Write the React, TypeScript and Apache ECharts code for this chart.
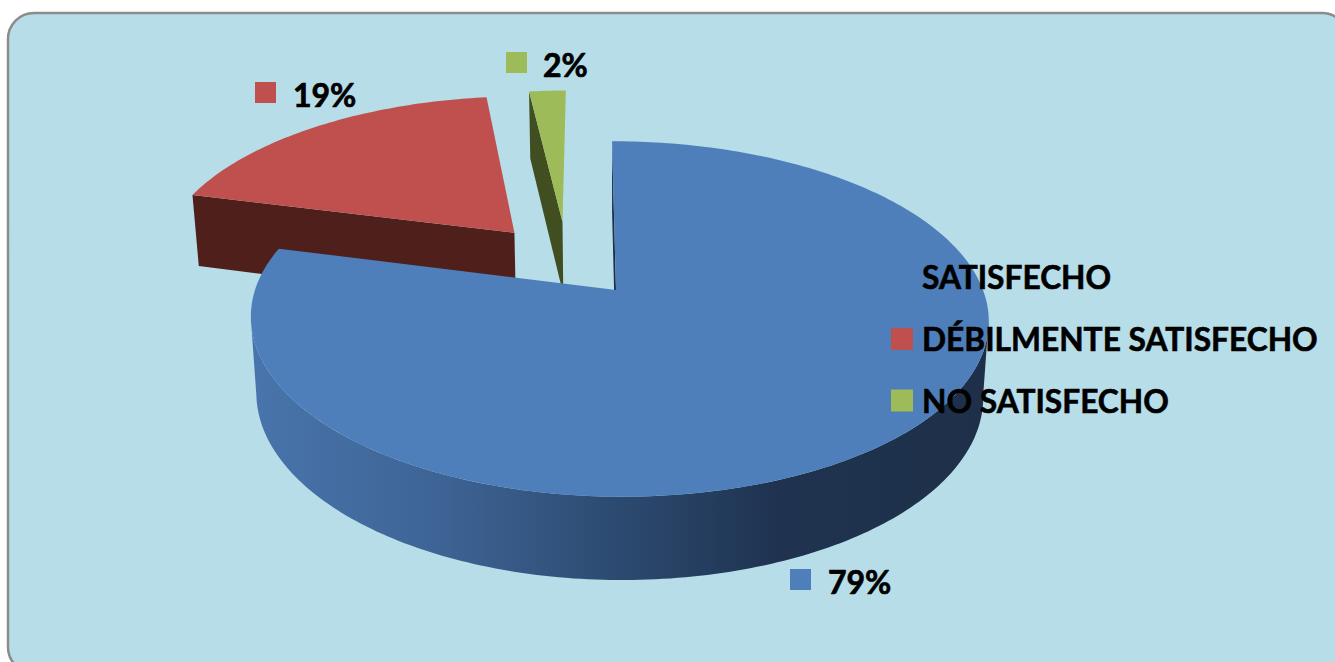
import React, { useEffect, useRef } from "react";
import * as echarts from "echarts";

const CATEGORIES = ["SATISFECHO", "DÉBILMENTE SATISFECHO", "NO SATISFECHO"];
const VALUES = [79, 19, 2];

const TOP_COLORS = ["#4e7fbb", "#c0504d", "#9dbb59"];
const SIDE_COLORS = ["#1d304a", "#4f1f1c", "#414f20"];
// world-space explosion of each slice, in pie radii, and each slice's radius
const EXPLODE = [[0, 0], [-0.293, 0.35], [-0.153, 0.42]];
const RADII = [1, 1.02, 1];
const LABEL_SPOTS = [[790, 580, 828], [255, 93, 293], [506, 63, 543]];
const FONT = "Lato, 'Open Sans', sans-serif";

const TOTAL = VALUES.reduce((a, b) => a + b, 0);
const K = 0.163;
// the angles at which the projected circle reaches its left and right extremes
const SILHOUETTE_R = Math.acos(-K);
const SILHOUETTE_L = Math.PI * 2 - SILHOUETTE_R;

function project(X: number, Z: number, plane: "top" | "bottom") {
  const s = 1 / (1 + K * Z);
  const f = plane === "top" ? 1 : 0.985;
  const rx = X < 0 ? 361 * f : 367 * f;
  const x = 616 + rx * X * s - 4.6 * Z * s;
  const y = plane === "top" ? 290 - 173 * Z * s : 365 - 180 * Z * s;
  return [x, y];
}

function renderSlice(index: number) {
  return (_params: any, api: any) => {
    const value = api.value(0);
    const before = VALUES.slice(0, index).reduce((a, b) => a + b, 0);
    const a0 = (before / TOTAL) * Math.PI * 2;
    const a1 = ((before + value) / TOTAL) * Math.PI * 2;
    const [ox, oz] = EXPLODE[index];
    const radius = RADII[index];
    const arc = (plane: "top" | "bottom", from: number, to: number) => {
      const steps = Math.max(4, Math.round(((to - from) * 180) / Math.PI));
      const pts: number[][] = [];
      for (let i = 0; i <= steps; i++) {
        const t = from + ((to - from) * i) / steps;
        pts.push(project(ox + radius * Math.sin(t), oz + radius * Math.cos(t), plane));
      }
      return pts;
    };
    const topArc = arc("top", a0, a1);
    const botArc = arc("bottom", a0, a1);
    const apexTop = project(ox, oz, "top");
    const apexBot = project(ox, oz, "bottom");
    const side = SIDE_COLORS[index];
    const children: any[] = [];

    if (index === 0) {
      const wallFrom = Math.max(a0, SILHOUETTE_R);
      const wallTo = Math.min(a1, SILHOUETTE_L);
      children.push({
        type: "polygon",
        shape: { points: [...arc("top", wallFrom, wallTo), ...arc("bottom", wallFrom, wallTo).reverse()] },
        style: {
          fill: {
            type: "linear", x: 258, y: 0, x2: 980, y2: 0, global: true,
            colorStops: [
              { offset: 0, color: "#4874ab" },
              { offset: 0.25, color: "#3e6495" },
              { offset: 0.5, color: "#2c4a70" },
              { offset: 0.72, color: "#1f3350" },
              { offset: 1, color: "#1e3049" },
            ],
          },
        },
      });
    }
    children.push({
      type: "polygon",
      shape: { points: [topArc[0], apexTop, apexBot, botArc[0]] },
      style: { fill: side },
    });
    children.push({
      type: "polygon",
      shape: { points: [apexTop, ...topArc] },
      style: { fill: TOP_COLORS[index] },
    });

    const [mx, my, tx] = LABEL_SPOTS[index];
    children.push({
      type: "rect",
      shape: { x: mx, y: my - 11, width: 21, height: 21 },
      style: { fill: TOP_COLORS[index] },
    });
    children.push({
      type: "text",
      style: {
        text: `${Math.round((value / TOTAL) * 100)}%`,
        x: tx, y: my + 1,
        fill: "#000", font: `bold 32px ${FONT}`,
        stroke: "#000", lineWidth: 0.7,
        align: "left", verticalAlign: "middle",
      },
    });
    return { type: "group", children };
  };
}

export default function App() {
  const ref = useRef<HTMLDivElement>(null);
  useEffect(() => {
    document.body.style.margin = "0";
    document.body.style.background = "#fff";
    const chart = echarts.init(ref.current!, undefined, { renderer: "svg" });
    chart.setOption({
      animation: false,
      graphic: [{
        type: "rect", z: -10, silent: true,
        shape: { x: 8, y: 13, width: 1340, height: 660, r: 26 },
        style: { fill: "#b7dde8", stroke: "#8c8c8c", lineWidth: 2.5 },
      }],
      legend: {
        show: true, orient: "vertical", left: 891, top: 261, icon: "rect",
        itemWidth: 22, itemHeight: 22, itemGap: 29, padding: 0,
        selectedMode: false, z: 10,
        data: CATEGORIES,
        textStyle: {
          fontFamily: FONT, fontWeight: "bold", fontSize: 31.7, color: "#000",
          textBorderColor: "#000", textBorderWidth: 0.6,
          padding: [0, 0, 0, 4],
        },
      },
      series: CATEGORIES.map((name, i) => ({
        type: "custom", name, coordinateSystem: "none", silent: true,
        z: i === 0 ? 3 : 2,
        itemStyle: { color: TOP_COLORS[i] },
        data: [[VALUES[i]]],
        renderItem: renderSlice(i),
      })),
    });
    return () => chart.dispose();
  }, []);
  return <div ref={ref} style={{ position: "absolute", left: 0, top: 0, width: 1335, height: 662, overflow: "hidden" }} />;
}
